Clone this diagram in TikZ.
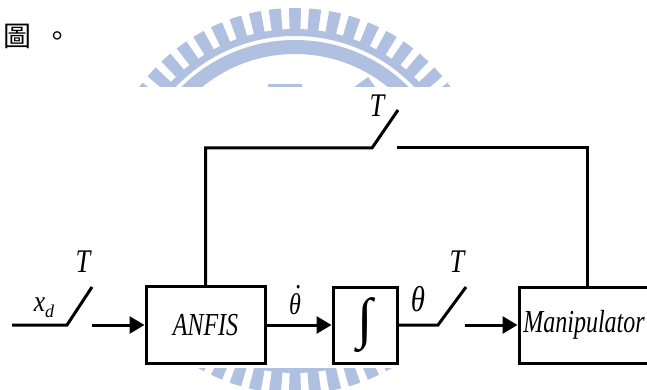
\documentclass[tikz,border=0pt]{standalone}
\usepackage{fontspec}
\setmainfont{Liberation Serif}
\newfontfamily\cjk{Noto Sans CJK TC}
\usetikzlibrary{arrows.meta}
\definecolor{wm}{RGB}{176,192,224}
\newcommand\cond[2]{\scalebox{#1}[1]{#2}}
\begin{document}
\begin{tikzpicture}[x=1pt,y=-1pt,
  wire/.style={line width=3pt},
  arr/.style={wire,-{Triangle[length=15pt,width=17pt]}},
  blk/.style={draw,line width=3pt,inner sep=0pt},
  lbl/.style={inner sep=0pt,font=\itshape}]
\useasboundingbox (0,0) rectangle (647,390);
% watermark
\begin{scope}
\clip (0,0) rectangle (647,87) (0,368) rectangle (647,390);
\foreach \a in {0,6,...,354}{
  \fill[wm] ([shift={(295,201)}]\a-1.8:171) arc[start angle=\a-1.8,end angle=\a+1.8,radius=171]
     -- ([shift={(295,201)}]\a+1.8:193) arc[start angle=\a+1.8,end angle=\a-1.8,radius=193] -- cycle;}
\fill[wm,even odd rule] (295,201) circle[radius=172] circle[radius=165];
\fill[wm,even odd rule] (295,201) circle[radius=161] circle[radius=147];
\fill[wm] (268,84) rectangle (302,88);
\fill[wm] (353,88) -- (368,77) -- (376,88) -- cycle;
\end{scope}
% heading
\node[anchor=west,inner sep=0pt] (head) at (3,36) {\cjk\fontsize{28}{28}\selectfont 圖\hspace{12pt}。};
% blocks
\node[blk,minimum width=119pt,minimum height=77pt] (anfis) at (205.5,325)
  {\fontsize{32}{32}\selectfont\itshape\cond{0.75}{ANFIS}};
\node[blk,minimum width=64pt,minimum height=76pt] (integ) at (365,325)
  {\fontsize{56}{56}\selectfont ∫};
\node[blk,minimum width=136pt,minimum height=76pt] (manip) at (587,325)
  {\hspace*{-6pt}\fontsize{32}{32}\selectfont\itshape\cond{0.75}{Manipulator}};
% input switch
\coordinate (xin) at (12,325);
\coordinate (s1a) at (67,325);
\coordinate (s1b) at (92,287);
\coordinate (s1c) at (92,325);
\draw[wire] (xin) -- (s1a) -- (s1b);
\draw[arr] (s1c) -- (anfis.west);
\node[lbl] (t1) at (83,262) {\fontsize{33}{33}\selectfont\cond{0.8}{T}};
\node[lbl] (xd) at (44,308) {\fontsize{30}{30}\selectfont\cond{0.85}{x}\raisebox{-6pt}{\fontsize{18}{18}\selectfont d}};
% anfis -> integrator
\draw[arr] (anfis.east) -- (integ.west);
\node[lbl] (thd) at (295,300) {\fontsize{30}{30}\selectfont\cond{0.8}{\makebox[0pt][l]{\hspace{0.28em}\raisebox{0.85em}{.}}θ}};
% output switch
\coordinate (s2a) at (438,325);
\coordinate (s2b) at (466,287);
\coordinate (s2c) at (465,325);
\draw[wire] (integ.east) -- (s2a) -- (s2b);
\draw[arr] (s2c) -- (manip.west);
\node[lbl] (th) at (418,299) {\fontsize{36}{36}\selectfont\cond{0.8}{θ}};
\node[lbl] (t2) at (457,262) {\fontsize{33}{33}\selectfont\cond{0.8}{T}};
% feedback switch
\coordinate (s3a) at (372,148);
\coordinate (s3b) at (398,110);
\coordinate (s3c) at (397,148);
\draw[wire] (anfis.north) |- (s3a) -- (s3b);
\draw[wire] (s3c) -| (manip.north);
\node[lbl] (t3) at (377,106) {\fontsize{33}{33}\selectfont\cond{0.8}{T}};
\end{tikzpicture}
\end{document}
